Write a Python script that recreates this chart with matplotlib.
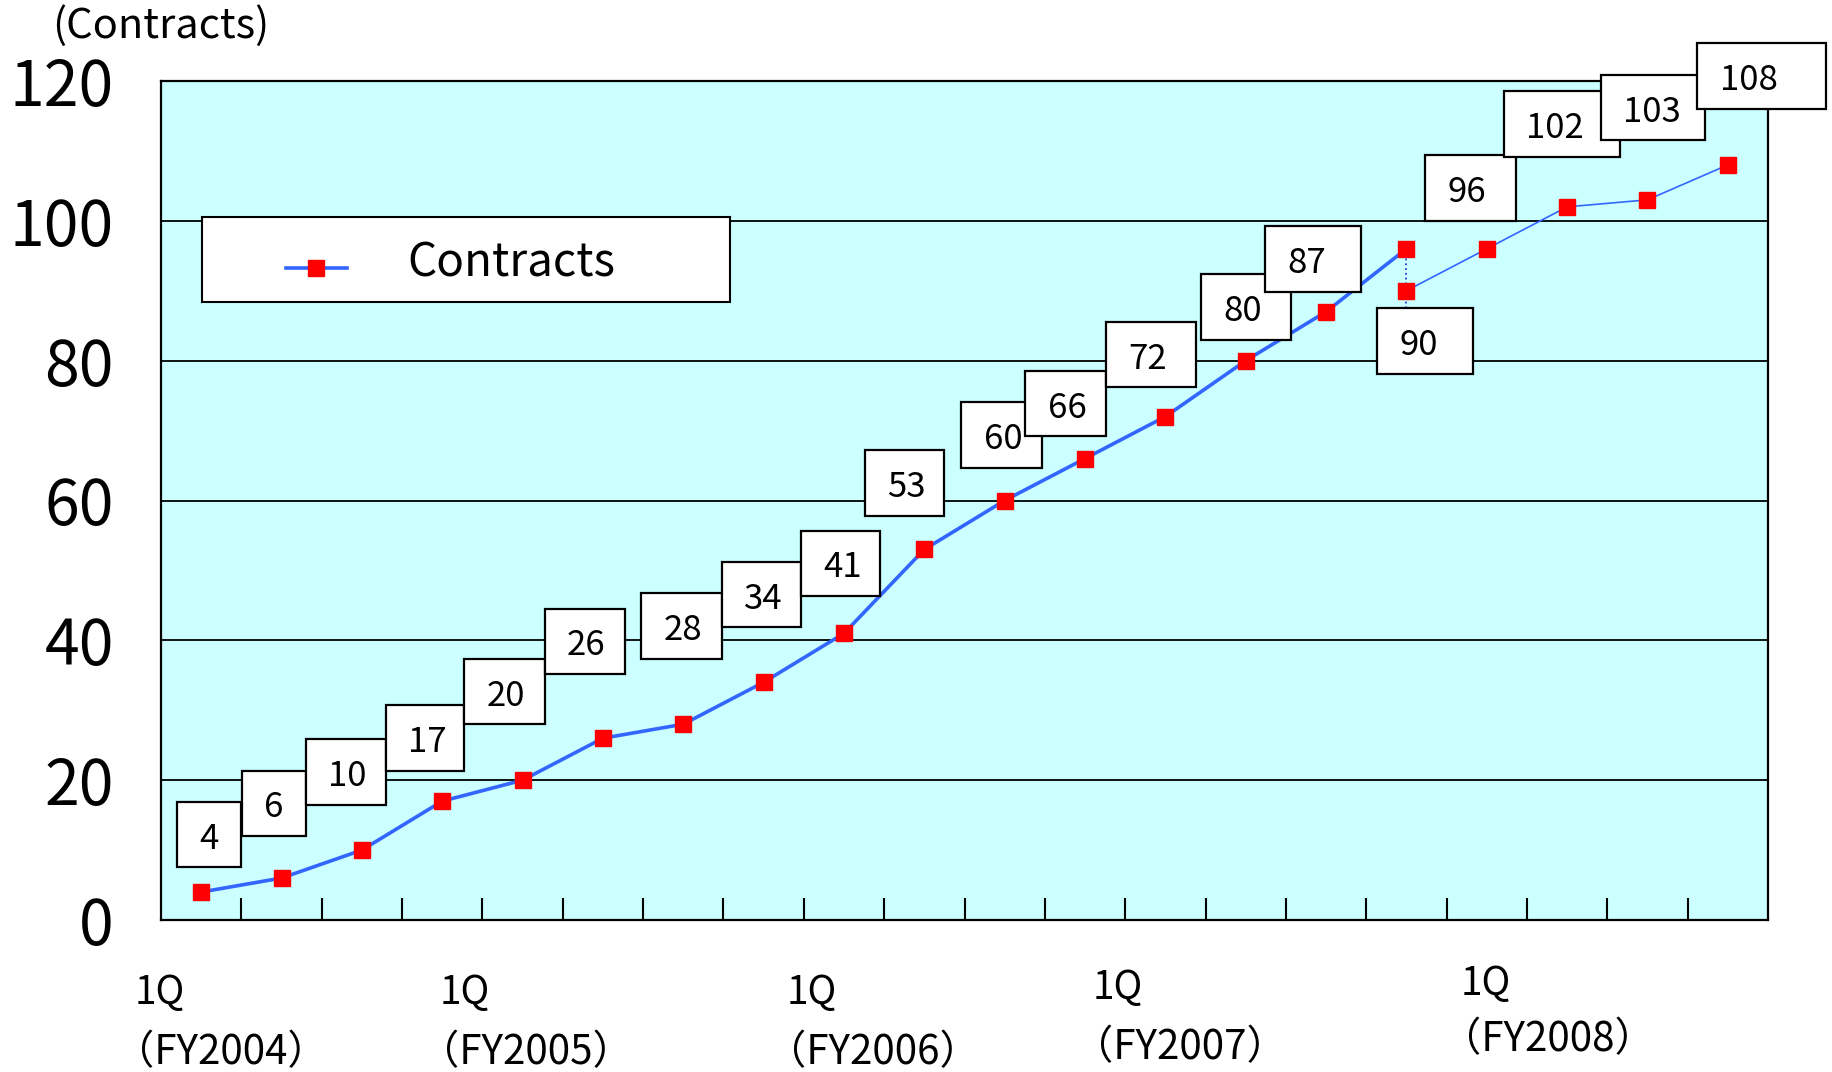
import matplotlib
matplotlib.use('Agg')
import matplotlib.pyplot as plt
from matplotlib.patches import Rectangle

plt.rcParams['font.family'] = ['Noto Sans CJK JP', 'DejaVu Sans']

# Data
quarters_a = list(range(0, 16))
contracts_a = [4, 6, 10, 17, 20, 26, 28, 34, 41, 53, 60, 66, 72, 80, 87, 96]
quarters_b = [15, 16, 17, 18, 19]
contracts_b = [90, 96, 102, 103, 108]
q_labels = ['1Q', '1Q', '1Q', '1Q', '1Q']
fy_labels = ['（FY2004）', '（FY2005）', '（FY2006）', '（FY2007）', '（FY2008）']
y_ticks = [0, 20, 40, 60, 80, 100, 120]

# labelled points: all of series A except its last one, then all of series B
label_x = quarters_a[:-1] + quarters_b
label_v = contracts_a[:-1] + contracts_b

# layout (px on the 1568 wide reference): label box left / centre offset from its point, box width
box_dx = [-21, -34, -48, -48, -50, -50, -36, -36, -37, -51, -37, -51, -51, -38, -52, -25, -53, -54, -40, -26]
box_dy = [-49, -64, -67, -54, -76, -83, -84, -75, -60, -57, -56, -47, -53, -46, -45, 43, -52, -71, -79, -76]
box_w = [55, 55, 69, 67, 69, 69, 69, 68, 68, 68, 69, 69, 77, 77, 82, 82, 78, 99, 89, 110]
# bottom category text positions
q_left = [115, 376, 673, 935, 1250]
q_y = [850, 850, 850, 846, 842]
fy_y = [901, 901, 901, 897, 890]

W, H = 1832, 1072
S = W / 1568.0
LINE = '#3366FF'

fig = plt.figure(figsize=(W / 100, H / 100), dpi=100)
ax = fig.add_axes([161 / W, (H - 920) / H, (1768 - 161) / W, (920 - 81) / H])
ax.set_facecolor('#CCFFFF')
ax.set_xlim(-0.5, 19.5)
ax.set_ylim(0, 120)
ax.set_autoscale_on(False)

ax.set_yticks(y_ticks)
ax.yaxis.grid(True, color='black', lw=1.3)
ax.set_axisbelow(True)
ax.tick_params(axis='y', length=0, pad=34, labelsize=45)
ax.set_xticks([k + 0.5 for k in range(19)])
ax.tick_params(axis='x', direction='in', length=16, width=1.5, labelbottom=False)
for sp in ax.spines.values():
    sp.set_linewidth(1.6)
    sp.set_color('black')

ax.plot(quarters_a, contracts_a, color=LINE, lw=2.6, marker='s', ms=11,
        mfc='#FF0000', mec='#FF0000', zorder=3)
ax.plot(quarters_b, contracts_b, color=LINE, lw=1.2, marker='s', ms=11,
        mfc='#FF0000', mec='#FF0000', zorder=3)

# label boxes
bh = 56 * S
for i, (x, v) in enumerate(zip(label_x, label_v)):
    px, py = ax.transData.transform((x, v))
    left = px + box_dx[i] * S
    cy = py - box_dy[i] * S
    rect = Rectangle((left / W, (cy - bh / 2) / H), box_w[i] * S / W, bh / H,
                     transform=fig.transFigure, fc='white', ec='black', lw=1.6, zorder=5)
    fig.add_artist(rect)
    fig.text((left + 19 * S) / W, (cy - 4 * S) / H, str(v), fontsize=25,
             ha='left', va='center', zorder=6)
    if x == quarters_b[0]:
        # dotted leader from the last point of series A to the box below
        top = ax.transData.inverted().transform((px, cy + bh / 2))[1]
        ax.plot([x, x], [contracts_a[-1], top], ls=':', color='#3333CC', lw=1.3, zorder=2)

# legend drawn by hand to match the box
ax.add_patch(Rectangle((0.0255, 0.737), 0.3285, 0.1014, transform=ax.transAxes,
                       fc='white', ec='black', lw=1.5, zorder=4))
ax.plot([0.0778, 0.1156], [0.777, 0.777], transform=ax.transAxes, color=LINE, lw=2.6, zorder=5)
ax.plot([0.0967], [0.777], transform=ax.transAxes, marker='s', ms=11,
        mfc='#FF0000', mec='#FF0000', zorder=6)
ax.text(0.1535, 0.783, 'Contracts', transform=ax.transAxes, fontsize=33,
        ha='left', va='center', zorder=6)

# unit label and category text
fig.text(45 * S / W, 1 - 22 * S / H, '(Contracts)', fontsize=30, ha='left', va='center')
for i in range(len(q_labels)):
    fig.text(q_left[i] * S / W, 1 - q_y[i] * S / H, q_labels[i], fontsize=28,
             ha='left', va='center')
    fig.text((q_left[i] - 17) * S / W, 1 - fy_y[i] * S / H, fy_labels[i], fontsize=29,
             ha='left', va='center')

fig.savefig('out.png', dpi=100)
